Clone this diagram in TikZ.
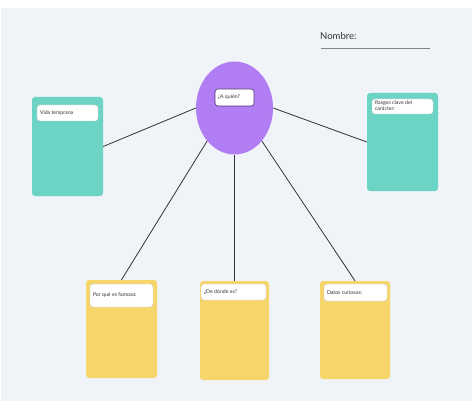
\documentclass[tikz,border=0pt]{standalone}
\usepackage{fontspec}
\setmainfont{Lato}
\usetikzlibrary{shapes.geometric}
\definecolor{panel}{HTML}{F0F3F8}
\definecolor{teal}{HTML}{6CD4C4}
\definecolor{yel}{HTML}{F6D56B}
\definecolor{purp}{HTML}{B07EF2}
\definecolor{purpdark}{HTML}{4A3570}
\definecolor{ink}{HTML}{333333}
\tikzset{
  card/.style={rounded corners=3pt, inner sep=0pt},
  tealcard/.style={card, fill=teal},
  yelcard/.style={card, fill=yel},
  lbl/.style={draw=black!20, line width=0.4pt, fill=white, rounded corners=3pt, inner sep=0pt,
    font=\fontsize{5.2}{6.2}\selectfont, text=ink, align=left},
  lbltext/.style={font=\fontsize{5.2}{6.2}\selectfont, text=ink, inner sep=0pt, align=left},
  link/.style={draw=ink, line width=0.8pt},
}
\begin{document}
\begin{tikzpicture}[x=1pt,y=-1pt]
\useasboundingbox (0,0) rectangle (474,409);
\fill[white] (0,0) rectangle (474,409);
\fill[panel] (1,8) rectangle (472,401);

% header
\node[anchor=west, font=\fontsize{9.5}{11}\selectfont, text=ink, inner sep=0pt] (nombre) at (320,36) {Nombre:};
\coordinate (dotA) at (321,48);
\coordinate (dotB) at (430,48);
\draw[ink!60, line width=0.6pt, dash pattern=on 0.5pt off 0.5pt] (dotA) -- (dotB);

% central ellipse
\node[ellipse, fill=purp, minimum width=77pt, minimum height=93pt, inner sep=0pt] (ell) at (234.5,108) {};
\node[lbl, draw=purpdark, line width=0.6pt, minimum width=39pt, minimum height=17pt] (ellL) at (234.5,97.5) {};
\node[lbltext, anchor=west] at ([xshift=3pt]ellL.west) {¿A quién?};

% cards
\path[tealcard] (32,97) rectangle (103,196);
\node[inner sep=0pt, minimum width=71pt, minimum height=99pt] (cardL) at (67.5,146.5) {};
\path[tealcard] (367,93) rectangle (438,191);
\node[inner sep=0pt, minimum width=71pt, minimum height=98pt] (cardR) at (402.5,142) {};
\path[yelcard] (86,280) rectangle (157,378);
\node[inner sep=0pt, minimum width=71pt, minimum height=98pt] (cardBL) at (121.5,329) {};
\path[yelcard] (200,281) rectangle (269,380);
\node[inner sep=0pt, minimum width=69pt, minimum height=99pt] (cardBM) at (234.5,330.5) {};
\path[yelcard] (320,281) rectangle (390,379);
\node[inner sep=0pt, minimum width=70pt, minimum height=98pt] (cardBR) at (355,330) {};

% labels
\node[lbl, minimum width=61pt, minimum height=16pt] (lL) at (67.5,113) {};
\node[lbltext, anchor=west] at ([xshift=3pt]lL.west) {Vida temprana};
\node[lbl, minimum width=61pt, minimum height=15pt] (lR) at (402.5,106.5) {};
\node[lbltext, anchor=north west] at ([xshift=3pt,yshift=-1.5pt]lR.north west) {Rasgos clave del\\carácter:};
\node[lbl, minimum width=63pt, minimum height=23pt] (lBL) at (121.5,295.5) {};
\node[lbltext, anchor=west] at ([xshift=3pt]lBL.west) {Por qué es famoso:};
\node[lbl, minimum width=65pt, minimum height=16pt] (lBM) at (233.5,292) {};
\node[lbltext, anchor=west] at ([xshift=3pt]lBM.west) {¿De dónde es?};
\node[lbl, minimum width=63pt, minimum height=17pt] (lBR) at (355.5,292.5) {};
\node[lbltext, anchor=west] at ([xshift=3pt]lBR.west) {Datos curiosos:};

% connectors
\draw[link] (ell.west) -- (cardL.east);
\draw[link] (ell.east) -- (cardR.west);
\draw[link] (ell.south west) -- (cardBL.north);
\draw[link] (ell.south) -- (cardBM.north);
\draw[link] (ell.south east) -- (cardBR.north);
\end{tikzpicture}
\end{document}
